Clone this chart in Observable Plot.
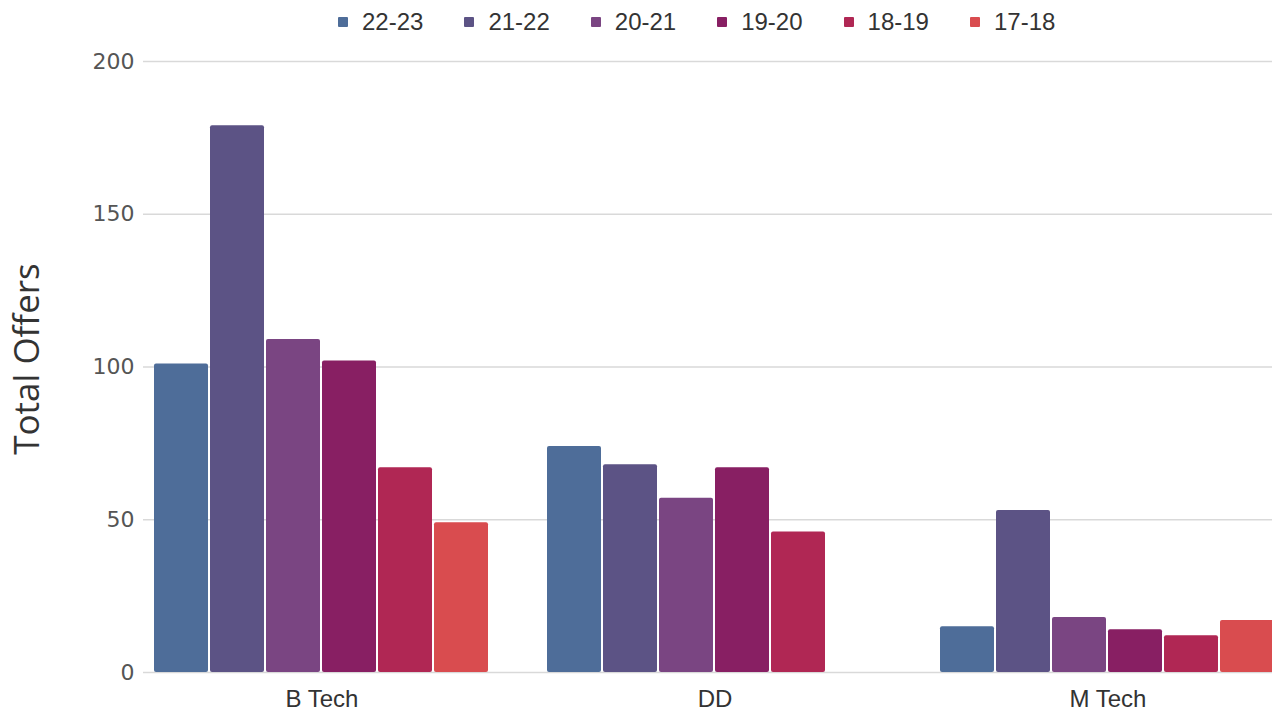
<!DOCTYPE html>
<html>
<head>
<meta charset="utf-8">
<script src="https://cdn.jsdelivr.net/npm/d3@7"></script>
<script src="https://cdn.jsdelivr.net/npm/@observablehq/plot@0.6"></script>
<style>
  html, body { margin: 0; padding: 0; background: #fff; overflow: hidden; }
  #wrap { position: relative; width: 1272px; height: 713px; overflow: hidden; }
  #legend { position: absolute; left: 338px; top: 8px; display: flex; align-items: center; gap: 41px;
            font-family: "Liberation Sans", Arial, sans-serif; font-size: 24px; color: #333; line-height: 28px; }
  #legend .item { display: flex; align-items: center; gap: 14px; }
  #legend .sw { width: 10px; height: 10px; border-radius: 1px; }
  #ylabel { position: absolute; left: 25px; top: 359px; transform: translate(-50%, -50%) rotate(-90deg);
            font-family: "Open Sans", sans-serif; font-size: 35px; color: #333; white-space: nowrap; }
</style>
</head>
<body>
<div id="wrap">
  <div id="chart"></div>
  <div id="legend"></div>
  <div id="ylabel">Total Offers</div>
</div>
<script>
const groups = ["B Tech", "DD", "M Tech"];
const years = ["22-23", "21-22", "20-21", "19-20", "18-19", "17-18"];
const colors = ["#4e6d99", "#5c5385", "#7a4582", "#881f63", "#b02754", "#d94c4f"];
const btech = [101, 179, 109, 102, 67, 49];
const dd = [74, 68, 57, 67, 46, null];
const mtech = [15, 53, 18, 14, 12, 17];
const yTicks = [0, 50, 100, 150, 200];
const yLabel = "Total Offers";

const series = [btech, dd, mtech];
const data = groups.flatMap((g, i) =>
  years.map((y, j) => ({group: g, year: y, value: series[i][j]}))
).filter(d => d.value != null);

const chart = Plot.plot({
  width: 1322,
  height: 713,
  marginLeft: 143,
  marginRight: 0,
  marginTop: 61,
  marginBottom: 41,
  style: {maxWidth: "none", background: "transparent", overflow: "visible"},
  fx: {domain: groups, paddingInner: 0, paddingOuter: 0, label: null},
  x: {domain: years, paddingInner: 0.036, paddingOuter: 0.5145, align: 0.18, axis: null},
  y: {domain: [0, 200], label: null},
  color: {domain: years, range: colors},
  marks: [
    Plot.gridY(yTicks, {stroke: "#d9d9d9", strokeOpacity: 1, strokeWidth: 1.5}),
    Plot.barY(data, {fx: "group", x: "year", y: "value", fill: "year", rx: 2}),
    Plot.axisY(yTicks, {tickSize: 0, tickPadding: 9, fontSize: 22, label: null, color: "#555", fontFamily: "DejaVu Sans", letterSpacing: 1}),
    Plot.axisFx({anchor: "bottom", tickSize: 0, tickPadding: 17, fontSize: 24, label: null, color: "#333", fontFamily: "Liberation Sans", dx: -18})
  ]
});
document.getElementById("chart").appendChild(chart);

const legend = document.getElementById("legend");
years.forEach((y, i) => {
  const item = document.createElement("div");
  item.className = "item";
  const sw = document.createElement("div");
  sw.className = "sw";
  sw.style.background = colors[i];
  const t = document.createElement("span");
  t.textContent = y;
  item.appendChild(sw);
  item.appendChild(t);
  legend.appendChild(item);
});
document.getElementById("ylabel").textContent = yLabel;
</script>
</body>
</html>
